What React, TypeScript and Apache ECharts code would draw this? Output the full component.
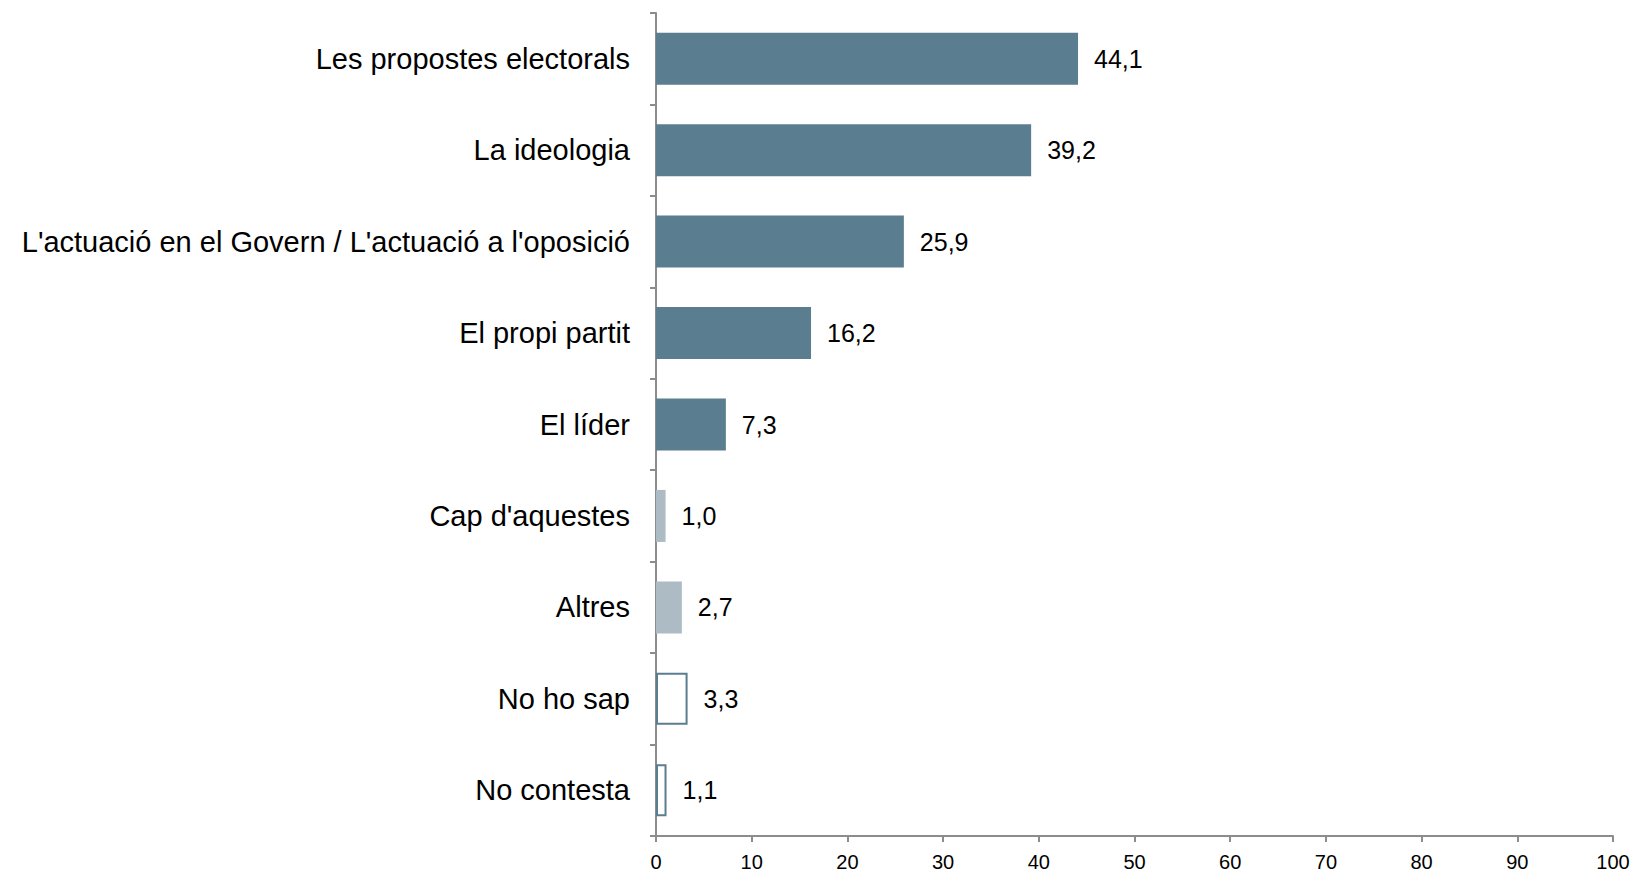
import React, { useEffect, useRef } from "react";
import * as echarts from "echarts";

const categories = [
  "Les propostes electorals",
  "La ideologia",
  "L'actuació en el Govern / L'actuació a l'oposició",
  "El propi partit",
  "El líder",
  "Cap d'aquestes",
  "Altres",
  "No ho sap",
  "No contesta",
];
const values = [44.1, 39.2, 25.9, 16.2, 7.3, 1.0, 2.7, 3.3, 1.1];
// style kind per category: 0 = dark, 1 = light, 2 = outline
const kinds = [0, 0, 0, 0, 0, 1, 1, 2, 2];
const xTicks = [0, 10, 20, 30, 40, 50, 60, 70, 80, 90, 100];

const DARK = "#5b7d90";
const LIGHT = "#adbbc5";
const FONT = "Liberation Sans, Arial, sans-serif";

export default function App() {
  const ref = useRef<HTMLDivElement>(null);
  useEffect(() => {
    if (!ref.current) return;
    const chart = echarts.init(ref.current, null, { renderer: "svg" });
    const data = values.map((v, i) => {
      const k = kinds[i];
      return {
        value: v,
        itemStyle:
          k === 0
            ? { color: DARK }
            : k === 1
            ? { color: LIGHT }
            : { color: "#ffffff", borderColor: DARK, borderWidth: 2 },
      };
    });
    chart.setOption({
      animation: false,
      grid: { left: 656, right: 23, top: 13, bottom: 36, containLabel: false },
      xAxis: {
        type: "value",
        min: xTicks[0],
        max: xTicks[xTicks.length - 1],
        interval: 10,
        splitLine: { show: false },
        axisLine: { show: true, lineStyle: { color: "#8c8c8c", width: 2 } },
        axisTick: { show: true, length: 6, lineStyle: { color: "#8c8c8c", width: 2 } },
        axisLabel: {
          color: "#000",
          fontFamily: FONT,
          fontSize: 20,
          margin: 16,
        },
      },
      yAxis: {
        type: "category",
        inverse: true,
        data: categories,
        axisLine: { show: true, lineStyle: { color: "#8c8c8c", width: 2 } },
        axisTick: { show: true, length: 6, alignWithLabel: false, lineStyle: { color: "#8c8c8c", width: 2 } },
        axisLabel: {
          color: "#000",
          fontFamily: FONT,
          fontSize: 29,
          margin: 26,
        },
      },
      series: [
        {
          type: "bar",
          data,
          barWidth: 52,
          label: {
            show: true,
            position: "right",
            distance: 16,
            color: "#000",
            fontFamily: FONT,
            fontSize: 25,
            formatter: (p: any) => p.value.toFixed(1).replace(".", ","),
          },
        },
      ],
    });
    return () => chart.dispose();
  }, []);
  return (
    <div
      ref={ref}
      style={{ position: "absolute", left: 0, top: 0, width: 1636, height: 872 }}
    />
  );
}
